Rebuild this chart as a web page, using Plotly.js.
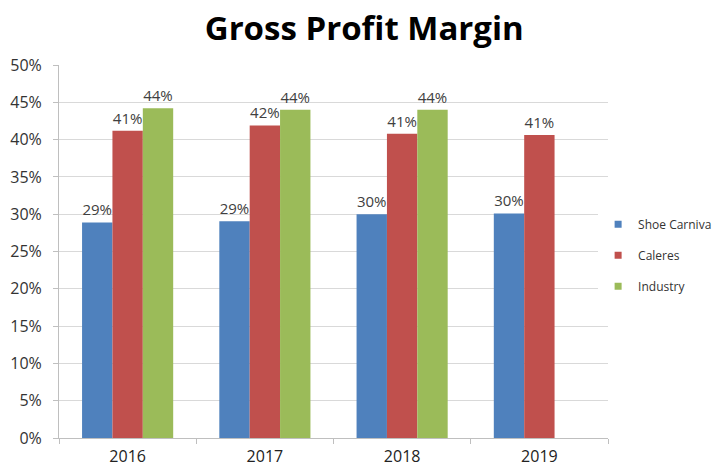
<!DOCTYPE html>
<html>
<head>
<meta charset="utf-8">
<script src="https://cdn.plot.ly/plotly-3.0.1.min.js"></script>
<style>html,body{margin:0;padding:0;background:#fff;}#chart{width:717px;height:466px;}</style>
</head>
<body>
<div id="chart"></div>
<script>
const years = ['2016', '2017', '2018', '2019'];
const shoeCarniva = [0.289, 0.2905, 0.300, 0.301];
const caleres = [0.412, 0.419, 0.408, 0.406];
const industry = [0.442, 0.440, 0.440, null];
const seriesNames = ['Shoe Carniva', 'Caleres', 'Industry'];
const seriesColors = ['#4F81BD', '#C0504D', '#9BBB59'];
const yTickVals = [0, 0.05, 0.1, 0.15, 0.2, 0.25, 0.3, 0.35, 0.4, 0.45, 0.5];

const font = '"Open Sans", "Liberation Sans", sans-serif';
const dataSets = [shoeCarniva, caleres, industry];
const traces = dataSets.map((vals, i) => ({
  type: 'bar',
  name: seriesNames[i],
  showlegend: false,
  x: years,
  y: vals,
  marker: {color: seriesColors[i]},
  text: vals.map(v => v == null ? '' : Math.round(v * 100) + '%'),
  textposition: 'outside',
  cliponaxis: false,
  textfont: {family: font, size: 15, color: '#404040'},
  hoverinfo: 'x+y'
}));
// legend entries with small square keys
seriesNames.forEach((n, i) => traces.push({
  type: 'scatter', mode: 'markers', name: n, legendgroup: 'g' + i,
  x: [years[0]], y: [null],
  marker: {symbol: 'square', size: 7, color: seriesColors[i]},
  hoverinfo: 'skip'
}));

const layout = {
  width: 717, height: 466,
  margin: {l: 59, r: 109, t: 65, b: 28, autoexpand: false},
  paper_bgcolor: '#fff', plot_bgcolor: '#fff',
  title: {text: '<b>Gross Profit Margin</b>', x: 0.508, xanchor: 'center', y: 0.94, yanchor: 'middle',
          font: {family: font, size: 33, color: '#000'}},
  barmode: 'group',
  bargap: 0.336,
  bargroupgap: 0,
  xaxis: {
    type: 'category',
    showline: true, linecolor: '#bfbfbf', linewidth: 1,
    ticks: 'outside', tickson: 'boundaries', ticklen: 5, tickcolor: '#bfbfbf',
    tickfont: {family: font, size: 16, color: '#222'},
    ticklabelstandoff: 4,
    showgrid: false, zeroline: false
  },
  yaxis: {
    range: [0, 0.5],
    tickvals: yTickVals,
    tickformat: '.0%',
    showline: true, linecolor: '#bfbfbf', linewidth: 1,
    ticks: 'outside', ticklen: 5, tickcolor: '#bfbfbf',
    tickfont: {family: font, size: 16, color: '#333'},
    ticklabelstandoff: 8,
    showgrid: true, gridcolor: '#d9d9d9', gridwidth: 1,
    zeroline: false
  },
  showlegend: true,
  legend: {
    x: 0.982, xanchor: 'left', y: 0.49, yanchor: 'middle',
    traceorder: 'grouped', tracegroupgap: 12,
    font: {family: font, size: 12, color: '#333'},
    itemwidth: 30
  }
};

Plotly.newPlot('chart', traces, layout, {displayModeBar: false, staticPlot: true});
</script>
</body>
</html>
